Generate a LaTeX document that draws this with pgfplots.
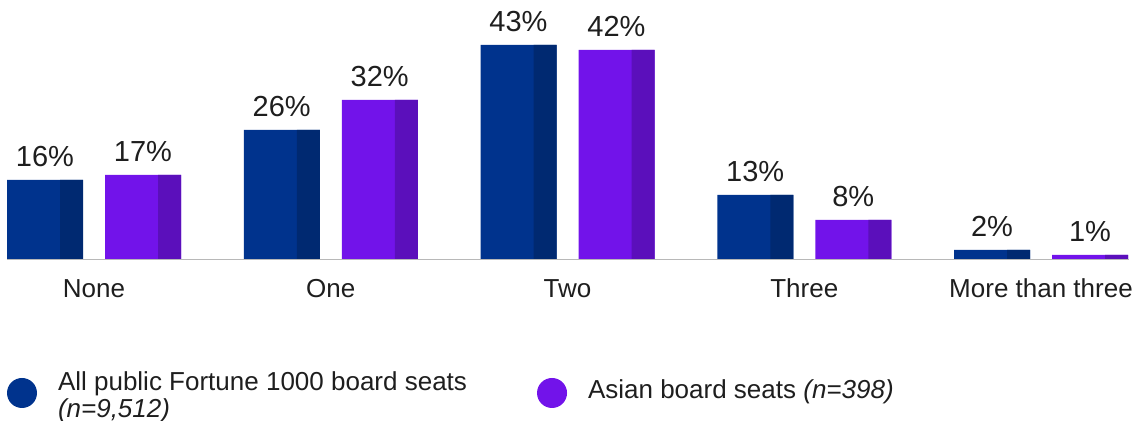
\documentclass[border=0pt]{standalone}
\usepackage{pgfplots}
\pgfplotsset{compat=1.18}
\usepackage{fontspec}
\setmainfont{Liberation Sans}

\definecolor{kblue}{RGB}{0,51,141}
\definecolor{kbluedark}{RGB}{0,41,113}
\definecolor{kpurple}{RGB}{114,19,234}
\definecolor{kpurpledark}{RGB}{91,15,187}
\definecolor{basegray}{RGB}{184,184,184}
\definecolor{txt}{RGB}{30,30,30}

\begin{document}
\begin{tikzpicture}
\begin{axis}[
    scale only axis,
    width=561pt, height=130pt,
    xmin=-0.3675, xmax=4.3717,
    ymin=0, ymax=52,
    axis line style={draw=none},
    ymajorticks=false,
    xtick={0,1,2,3,4},
    xticklabels={None,One,Two,Three,More than three},
    major tick length=0pt,
    xticklabel style={font=\fontsize{13}{15}\selectfont, anchor=base, yshift=-19pt, text=txt},
    /pgf/number format/assume math mode=true,
    ybar, bar width=0.321,
    nodes near coords={\pgfmathprintnumber{\pgfplotspointmeta}\%},
    every node near coord/.append style={font=\fontsize{14.5}{16}\selectfont, anchor=base, yshift=6.75pt, text=txt},
    legend style={at={(rel axis cs:0,0)}, anchor=west, yshift=-66.5pt,
        draw=none, fill=none, inner sep=0pt, outer sep=0pt,
        legend columns=2, font=\fontsize{13}{13}\selectfont, text=txt,
        cells={anchor=west, inner sep=0pt},
        /tikz/every odd column/.append style={column sep=8.5pt},
        /tikz/every even column/.append style={column sep=33pt}},
]
% all public Fortune 1000 board seats
\addplot[fill=kblue, draw=none, bar shift=-0.207,
    legend image code/.code={\fill[kblue] (7.5pt,0pt) circle (7.5pt);}]
    coordinates {(0,16) (1,26) (2,43) (3,13) (4,2)};
\addlegendentry{\raisebox{3.5pt}{\begin{tabular}{@{}l@{}}All public Fortune 1000 board seats\\\textit{(n=9,512)}\end{tabular}}}
\addplot[fill=kbluedark, draw=none, bar shift=-0.0950, bar width=0.0971,
    nodes near coords=\empty, forget plot]
    coordinates {(0,16) (1,26) (2,43) (3,13) (4,2)};
% Asian board seats
\addplot[fill=kpurple, draw=none, bar shift=0.207,
    legend image code/.code={\fill[kpurple] (7.5pt,0pt) circle (7.5pt);}]
    coordinates {(0,17) (1,32) (2,42) (3,8) (4,1)};
\addlegendentry{\raisebox{2pt}{Asian board seats \textit{(n=398)}}}
\addplot[fill=kpurpledark, draw=none, bar shift=0.3189, bar width=0.0971,
    nodes near coords=\empty, forget plot]
    coordinates {(0,17) (1,32) (2,42) (3,8) (4,1)};

\draw[basegray, line width=1pt] (rel axis cs:0,0) -- (rel axis cs:1,0);
\coordinate (sw) at (rel axis cs:0,0);
\coordinate (ne) at (rel axis cs:1,1);
\end{axis}
\pgfresetboundingbox
\path[use as bounding box] ([shift={(-3.5pt,-80.5pt)}]sw) rectangle ([shift={(5.5pt,0pt)}]ne);
\end{tikzpicture}
\end{document}
